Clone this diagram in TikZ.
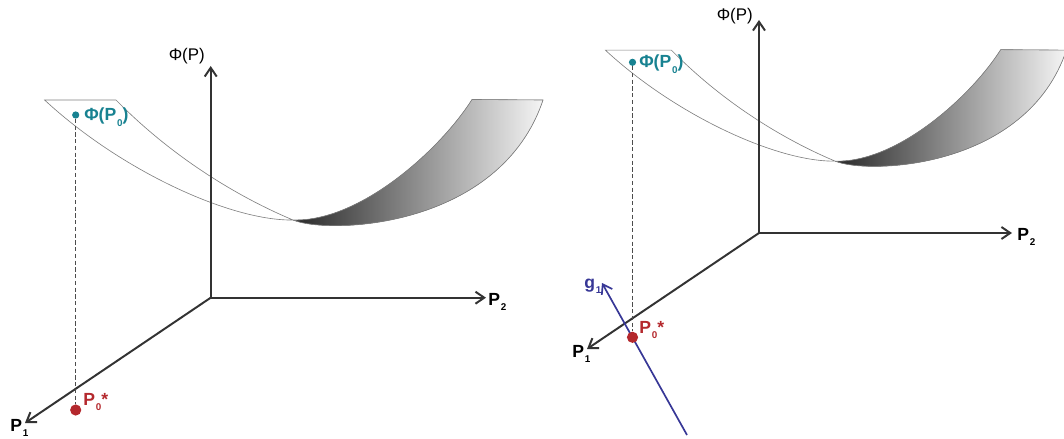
\documentclass[tikz,border=0pt]{standalone}
\usepackage{fontspec}
\setmainfont{Liberation Sans}
\usetikzlibrary{arrows.meta}

\definecolor{ejes}{RGB}{51,51,51}
\definecolor{turquesa}{RGB}{24,130,145}
\definecolor{rojo}{RGB}{180,40,45}
\definecolor{azul}{RGB}{55,55,150}

% subindice pequeno
\newcommand{\indice}[1]{\kern0.6pt\raisebox{-0.6ex}{\fontsize{7}{7}\selectfont #1}}
% superficie, coordenadas relativas al origen
\newcommand{\cuenco}{%
  \fill[left color=black!84, right color=black!4]
    (82.3,-77.7) .. controls (149.3,-75.7) and (229.3,-147.7) .. (261.3,-198.2)
    -- (332.3,-197.7) .. controls (289.3,-69.7) and (119.3,-62.7) .. (82.3,-77.7) -- cycle;
  \draw[borde] (-166.1,-197.7) .. controls (-90.7,-127.7) and (19.3,-76.7) .. (82.3,-77.7)
    .. controls (149.3,-75.7) and (229.3,-147.7) .. (261.3,-198.2)
    -- (332.3,-197.7) .. controls (289.3,-69.7) and (119.3,-62.7) .. (82.3,-77.7)
    .. controls (39.3,-95.7) and (-30.7,-132.7) .. (-94.7,-197.7) -- cycle;
}

\begin{document}
\begin{tikzpicture} %Grafica
  [
    x=0.025cm, y=-0.025cm,
    % estilos para no repetir codigo
    eje/.style={draw=ejes, line width=1.4pt, -{Straight Barb[length=2.2mm,width=3mm]}},
    borde/.style={draw=black!50, line width=0.45pt},
    proy/.style={draw=black!70, line width=0.75pt, dash pattern=on 3pt off 1.8pt},
    punto/.style={circle, fill=rojo, inner sep=0pt, minimum size=0.28cm},
    puntito/.style={circle, fill=turquesa, inner sep=0pt, minimum size=0.18cm},
    etiq/.style={font=\fontsize{12.5}{14}\selectfont\bfseries, inner sep=0pt},
    texto/.style={font=\fontsize{12}{14}\selectfont, inner sep=0pt}
  ]
  \useasboundingbox (0,0) rectangle (1064,439);

  % panel izquierdo
  \begin{scope}[shift={(210.7,297.7)}]
    \cuenco
  \end{scope}
  \coordinate (lO) at (210.7,297.7);
  \coordinate (lz) at (210.7,66);
  \coordinate (lx) at (486,297.7);
  \coordinate (ly) at (25,423);
  \draw[eje] (lO) -- (lz);
  \draw[eje] (lO) -- (lx);
  \draw[eje] (lO) -- (ly);
  \node[texto, anchor=base east] (lzl) at (205,61) {Φ(P)};
  \node[etiq, anchor=base west] (lxl) at (488,305) {P\indice{2}};
  \node[etiq, anchor=base west] (lyl) at (10,431) {P\indice{1}};
  \node[puntito] (lf) at (75.7,115) {};
  \node[punto] (lp) at (75.7,410) {};
  \draw[proy] (lf) -- (lp);
  \node[etiq, turquesa, anchor=base west] (lfl) at (84,121) {Φ(P\indice{0})};
  \node[etiq, rojo, anchor=base west] (lpl) at (83,405) {P\indice{0}*};

  % panel derecho
  \begin{scope}[shift={(759,233)}, scale=0.925]
    \cuenco
  \end{scope}
  \coordinate (rO) at (759,233);
  \coordinate (rz) at (759,20);
  \coordinate (rx) at (1012,233);
  \coordinate (ry) at (587,349);
  \draw[eje] (rO) -- (rz);
  \draw[eje] (rO) -- (rx);
  \draw[eje] (rO) -- (ry);
  \node[texto, anchor=base east] (rzl) at (753,21) {Φ(P)};
  \node[etiq, anchor=base west] (rxl) at (1017,240) {P\indice{2}};
  \node[etiq, anchor=base west] (ryl) at (572,357) {P\indice{1}};
  \coordinate (rg0) at (687,435);
  \coordinate (rg1) at (602,283);
  \draw[azul, line width=1.2pt, -{Straight Barb[length=2.2mm,width=3mm]}] (rg0) -- (rg1);
  \node[etiq, azul, anchor=base west] (rgl) at (584,288) {g\indice{1}};
  \node[puntito] (rf) at (632.5,62.3) {};
  \node[punto] (rp) at (632.5,337.3) {};
  \draw[proy] (rf) -- (rp);
  \node[etiq, turquesa, anchor=base west] (rfl) at (639,68) {Φ(P\indice{0})};
  \node[etiq, rojo, anchor=base west] (rpl) at (639,333) {P\indice{0}*};
\end{tikzpicture}
\end{document}
